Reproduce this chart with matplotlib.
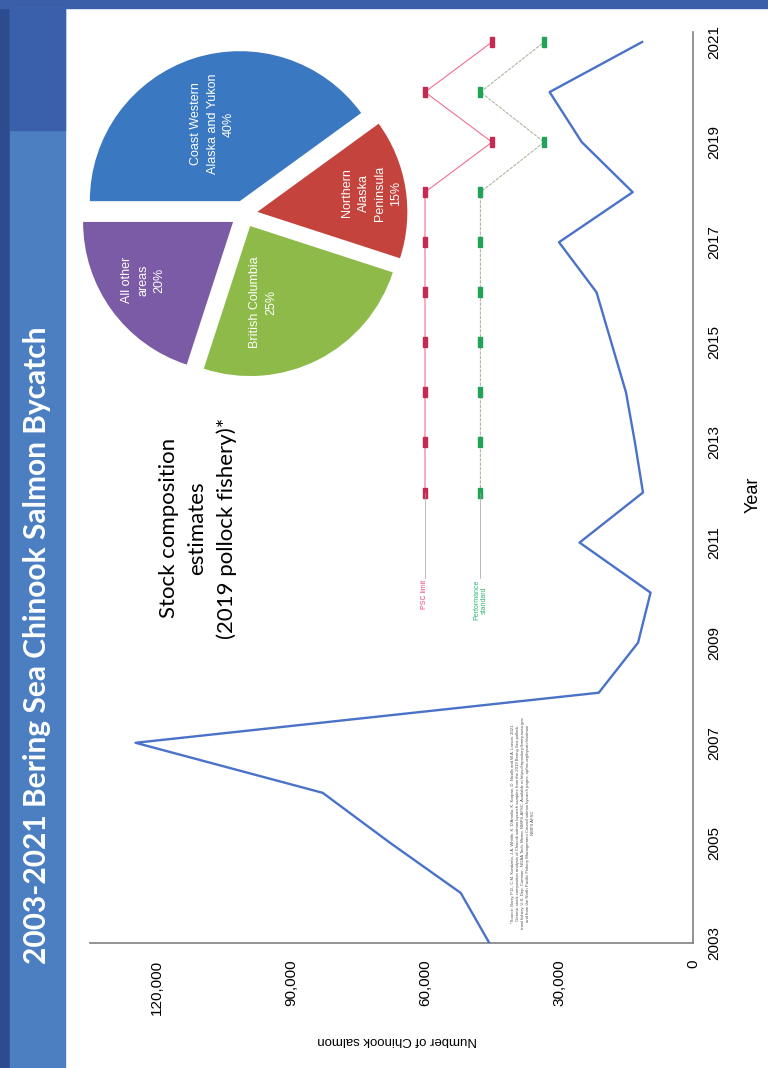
import matplotlib
matplotlib.use("Agg")
import matplotlib.pyplot as plt
from matplotlib.patches import Rectangle

plt.rcParams['font.family'] = ['Liberation Sans', 'DejaVu Sans']

# Chinook salmon bycatch in the Bering Sea pollock fishery
years = list(range(2003, 2022))
bycatch = [45600, 52000, 67800, 82900, 124800, 21100, 12300, 9500, 25400, 11200,
           13000, 15000, 18300, 21600, 30000, 13500, 24900, 32100, 11400]

# PSC limit and performance standard (Amendment 110)
cap_years = list(range(2012, 2022))
psc_limit = [60000, 60000, 60000, 60000, 60000, 60000, 60000, 45000, 60000, 45000]
perf_std = [47591, 47591, 47591, 47591, 47591, 47591, 47591, 33318, 47591, 33318]

# stock composition, 2019 pollock fishery
stocks = ['All other\nareas', 'British Columbia', 'Northern\nAlaska\nPeninsula',
          'Coast Western\nAlaska and Yukon']
shares = [20, 25, 15, 40]
stock_colors = ['#7B5AA6', '#8DBA48', '#C4433C', '#3B78C2']

value_ticks = [0, 30000, 60000, 90000, 120000]
year_ticks = list(range(2003, 2022, 2))

W, H = 768, 1068


def fx(x):
    return x / W


def fy(y):
    return 1 - y / H


fig = plt.figure(figsize=(W / 100, H / 100), dpi=100)
fig.patch.set_facecolor('white')

# slide frame and title band
for x0, y0, w, h, c in [(0, 0, 10, H, '#2D4C90'),
                        (0, 0, W, 8, '#3B5FA8'),
                        (10, 8, 55, H - 8, '#4C7FC1'),
                        (10, 8, 55, 122, '#3A60AB')]:
    fig.add_artist(Rectangle((fx(x0), fy(y0 + h)), w / W, h / H, color=c,
                             transform=fig.transFigure, zorder=0))
fig.text(fx(37), fy(645), '2003-2021 Bering Sea Chinook Salmon Bycatch',
         rotation=90, color='white', fontsize=21.5, fontweight='bold',
         family=['Lato', 'DejaVu Sans'], ha='center', va='center')

# line chart, drawn sideways: values run right-to-left, years bottom-to-top
ax = fig.add_axes([fx(90), fy(943), (693 - 90) / W, (943 - 32) / H])
ax.patch.set_alpha(0)
rect = [(-0.55, -1), (0.55, -1), (0.55, 1), (-0.55, 1), (-0.55, -1)]
ax.plot(bycatch, years, color='#4A72C8', lw=1.7, zorder=3)
ax.plot(psc_limit, cap_years, color='#F0708E', lw=0.8, marker=rect, ms=6.5,
        mfc='#C42A52', mec='#C42A52', zorder=2)
ax.plot(perf_std, cap_years, color='#AEB8A0', lw=0.8, ls=(0, (3, 1)), marker=rect,
        ms=6.5, mfc='#22A35A', mec='#22A35A', zorder=2)

# series labels with leader lines
ax.plot([psc_limit[0]] * 2, [cap_years[0], 2010.3], color='#A0A0A0', lw=0.5)
ax.plot([perf_std[0]] * 2, [cap_years[0], 2010.3], color='#A0A0A0', lw=0.5)
ax.text(psc_limit[0], 2010.25, 'PSC limit', rotation=90, color='#E8457A',
        fontsize=5, ha='center', va='top')
ax.text(perf_std[0], 2010.25, 'Performance\nstandard', rotation=90, color='#2BB673',
        fontsize=5, ha='center', va='top', multialignment='center')

ax.set_xlim(135000, 0)
ax.set_ylim(2003, 2021.2)
for s in ['top', 'left']:
    ax.spines[s].set_visible(False)
for s in ['right', 'bottom']:
    ax.spines[s].set_color('#808080')
    ax.spines[s].set_linewidth(1.2)
ax.yaxis.tick_right()
ax.set_yticks(year_ticks)
ax.set_yticklabels([str(y) for y in year_ticks], rotation=90, va='center', ha='left')
ax.set_xticks(value_ticks)
ax.set_xticklabels([f'{v:,}' for v in value_ticks], rotation=90, ha='center', va='top')
ax.tick_params(axis='y', length=0, pad=10, labelsize=11)
ax.tick_params(axis='x', length=0, pad=12, labelsize=11)

fig.text(fx(753), fy(495), 'Year', rotation=90, fontsize=13, ha='center', va='center')
fig.text(fx(397), fy(1040), 'Number of Chinook salmon', rotation=180, fontsize=9.5,
         ha='center', va='center')

note = ("*Source: Barry, P.D., C.M. Kondzela, J.A. Whittle, K. D'Amelio, K. Karpan, D. Nicolls and W.A. Larson. 2021.\n"
        "Genetic stock composition analysis of Chinook salmon bycatch samples from the 2019 Bering Sea pollock\n"
        "trawl fishery. U.S. Dep. Commer., NOAA Tech. Memo. NMFS-AFSC. Available at https://repository.library.noaa.gov\n"
        "and from the North Pacific Fishery Management Council salmon bycatch pages, npfmc.org/bycatch/salmon\n"
        "NMFS AFSC")
fig.text(fx(523), fy(823), note, rotation=90, fontsize=3.1, color='#505050',
         ha='center', va='center', linespacing=1.3)

fig.text(fx(198), fy(528), 'Stock composition\nestimates\n(2019 pollock fishery)*',
         rotation=90, fontsize=16, family=['Lato', 'DejaVu Sans'], ha='center',
         va='center', multialignment='center', linespacing=1.55)

# stock composition pie
R = 150
pax = fig.add_axes([fx(244 - 1.25 * R), fy(214 + 1.25 * R), 2.5 * R / W, 2.5 * R / H])
pax.pie(shares, colors=stock_colors, startangle=180, counterclock=True,
        explode=[0.09] * 4, wedgeprops=dict(linewidth=0))
pax.set_xlim(-1.25, 1.25)
pax.set_ylim(-1.25, 1.25)
pax.axis('off')
label_xy = [(-0.67, -0.44), (0.13, -0.59), (0.85, 0.14), (-0.21, 0.60)]
for (lx, ly), name, v in zip(label_xy, stocks, shares):
    pax.text(lx, ly, f'{name}\n{v}%', rotation=90, color='white', fontsize=9,
             family=['Liberation Sans Narrow', 'Liberation Sans', 'DejaVu Sans'],
             ha='center', va='center', multialignment='center', linespacing=1.45)

fig.savefig('out.png', dpi=100)
